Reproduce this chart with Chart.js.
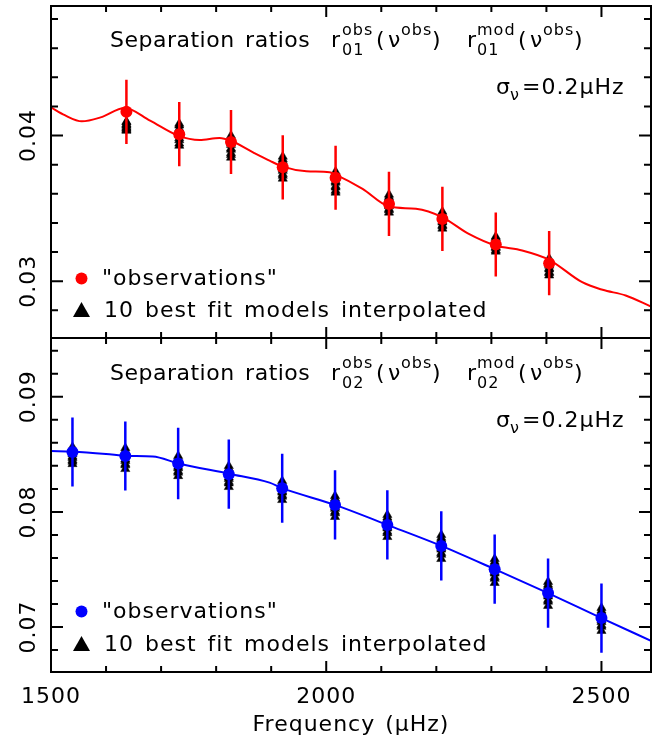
<!DOCTYPE html>
<html>
<head>
<meta charset="utf-8">
<script src="https://cdn.jsdelivr.net/npm/chart.js"></script>
<style>
  html, body { margin: 0; padding: 0; background: #fff; }
  #wrap { position: relative; width: 666px; height: 737px; }
  canvas { position: absolute; left: 0; top: 0; }
</style>
</head>
<body>
<div id="wrap">
  <canvas id="r01" width="666" height="737"></canvas>
  <canvas id="r02" width="666" height="737"></canvas>
</div>
<script>
// x axis (frequency, muHz)
const xMin = 1500;
const xMax = 2590;
const xTicks = [1500, 1600, 1700, 1800, 1900, 2000, 2100, 2200, 2300, 2400, 2500];
const xMajor = [1500, 2000, 2500];
const xLabels = ["1500", "2000", "2500"];

// r01 panel
const freq01 = [1637, 1733, 1827, 1921, 2017, 2114, 2211, 2308, 2405];
const r01Obs = [0.04163, 0.04010, 0.03956, 0.03782, 0.03710, 0.03531, 0.03428, 0.03252, 0.03124];
const r01Err = [0.0022, 0.0022, 0.0022, 0.0022, 0.0022, 0.0022, 0.0022, 0.0022, 0.0022];
const models01 = [
  [0.04096, 0.04091, 0.04079, 0.04074, 0.04068, 0.04057, 0.04052, 0.04047, 0.04038, 0.04034],
  [0.04082, 0.04070, 0.04049, 0.04038, 0.04014, 0.04003, 0.03982, 0.03969, 0.03946, 0.03931],
  [0.04000, 0.03981, 0.03972, 0.03948, 0.03937, 0.03913, 0.03904, 0.03880, 0.03868, 0.03849],
  [0.03856, 0.03838, 0.03827, 0.03805, 0.03793, 0.03771, 0.03759, 0.03737, 0.03725, 0.03705],
  [0.03753, 0.03741, 0.03719, 0.03709, 0.03687, 0.03678, 0.03654, 0.03644, 0.03622, 0.03609],
  [0.03595, 0.03580, 0.03571, 0.03552, 0.03544, 0.03524, 0.03516, 0.03497, 0.03488, 0.03472],
  [0.03478, 0.03463, 0.03455, 0.03437, 0.03430, 0.03411, 0.03404, 0.03385, 0.03378, 0.03362],
  [0.03307, 0.03298, 0.03282, 0.03275, 0.03259, 0.03252, 0.03236, 0.03229, 0.03213, 0.03204],
  [0.03156, 0.03141, 0.03134, 0.03115, 0.03108, 0.03090, 0.03082, 0.03063, 0.03056, 0.03040]
];
const curveFreq01 = [1500, 1525, 1556, 1590, 1634, 1680, 1731, 1770, 1806, 1826, 1867, 1897, 1921, 1964, 2006, 2017, 2066, 2114, 2163, 2211, 2259, 2308, 2356, 2405, 2465, 2502, 2544, 2590];
const curve01 = [0.04194, 0.04140, 0.04098, 0.04125, 0.04190, 0.04103, 0.04000, 0.03970, 0.03984, 0.03966, 0.03885, 0.03828, 0.03787, 0.03755, 0.03748, 0.03732, 0.03634, 0.03513, 0.03497, 0.03439, 0.03325, 0.03245, 0.03211, 0.03147, 0.02993, 0.02941, 0.02902, 0.02826];
const yTicks01 = [0.028, 0.03, 0.032, 0.034, 0.036, 0.038, 0.04, 0.042, 0.044, 0.046, 0.048];
const yMajor01 = [0.03, 0.04];
const yLabels01 = ["0.03", "0.04"];

// r02 panel
const freq02 = [1539, 1635, 1731, 1823, 1920, 2016, 2111, 2209, 2306, 2403, 2500];
const r02Obs = [0.08520, 0.08486, 0.08420, 0.08328, 0.08206, 0.08061, 0.07887, 0.07705, 0.07503, 0.07295, 0.07078];
const r02Err = [0.0030, 0.0030, 0.0031, 0.0030, 0.0030, 0.0030, 0.0030, 0.0030, 0.0030, 0.0030, 0.0030];
const models02 = [
  [0.08564, 0.08546, 0.08535, 0.08514, 0.08503, 0.08481, 0.08470, 0.08449, 0.08437, 0.08416],
  [0.08555, 0.08533, 0.08520, 0.08495, 0.08483, 0.08456, 0.08444, 0.08418, 0.08406, 0.08373],
  [0.08486, 0.08466, 0.08453, 0.08429, 0.08417, 0.08393, 0.08380, 0.08355, 0.08342, 0.08312],
  [0.08399, 0.08378, 0.08365, 0.08340, 0.08327, 0.08301, 0.08288, 0.08262, 0.08249, 0.08217],
  [0.08269, 0.08250, 0.08238, 0.08216, 0.08204, 0.08180, 0.08169, 0.08146, 0.08134, 0.08104],
  [0.08139, 0.08118, 0.08105, 0.08080, 0.08067, 0.08041, 0.08028, 0.08002, 0.07989, 0.07957],
  [0.07974, 0.07952, 0.07938, 0.07912, 0.07899, 0.07871, 0.07858, 0.07830, 0.07817, 0.07783],
  [0.07800, 0.07776, 0.07761, 0.07733, 0.07718, 0.07688, 0.07674, 0.07644, 0.07629, 0.07592],
  [0.07592, 0.07568, 0.07553, 0.07525, 0.07510, 0.07480, 0.07466, 0.07436, 0.07421, 0.07384],
  [0.07393, 0.07369, 0.07354, 0.07326, 0.07311, 0.07281, 0.07267, 0.07237, 0.07222, 0.07185],
  [0.07167, 0.07144, 0.07130, 0.07103, 0.07089, 0.07060, 0.07046, 0.07018, 0.07004, 0.06968]
];
const curveFreq02 = [1500, 1540, 1600, 1640, 1685, 1731, 1825, 1897, 1920, 2016, 2111, 2209, 2306, 2403, 2500, 2590];
const curve02 = [0.08529, 0.08523, 0.08503, 0.08486, 0.08482, 0.08421, 0.08330, 0.08254, 0.08206, 0.08061, 0.07887, 0.07705, 0.07503, 0.07295, 0.07078, 0.06881];
const yTicks02 = [0.068, 0.07, 0.072, 0.074, 0.076, 0.078, 0.08, 0.082, 0.084, 0.086, 0.088, 0.09, 0.092, 0.094];
const yMajor02 = [0.07, 0.08, 0.09];
const yLabels02 = ["0.07", "0.08", "0.09"];

const FONT = '"DejaVu Sans", sans-serif';

function text(ctx, t, x, y, size, spacing, words) {
  ctx.font = size + 'px ' + FONT;
  ctx.letterSpacing = (spacing || 0) + 'px';
  ctx.wordSpacing = (words || 0) + 'px';
  ctx.fillText(t, x, y);
}

const framePlugin = {
  id: 'frame',
  afterDraw(chart, args, o) {
    const ctx = chart.ctx;
    const a = chart.chartArea;
    const xs = chart.scales.x, ys = chart.scales.y;
    ctx.save();
    ctx.strokeStyle = '#000';
    ctx.fillStyle = '#000';
    ctx.lineWidth = 2;
    ctx.strokeRect(a.left, a.top, a.right - a.left, a.bottom - a.top);

    ctx.beginPath();
    xTicks.forEach(v => {
      const px = xs.getPixelForValue(v);
      const len = xMajor.includes(v) ? 11 : 6;
      ctx.moveTo(px, a.bottom); ctx.lineTo(px, a.bottom - len);
      ctx.moveTo(px, a.top); ctx.lineTo(px, a.top + len);
    });
    o.yTicks.forEach(v => {
      const py = ys.getPixelForValue(v);
      const len = o.yMajor.includes(v) ? 12 : 7;
      ctx.moveTo(a.left, py); ctx.lineTo(a.left + len, py);
      ctx.moveTo(a.right, py); ctx.lineTo(a.right - len, py);
    });
    ctx.stroke();

    // rotated y labels
    ctx.textAlign = 'center';
    ctx.textBaseline = 'alphabetic';
    o.yMajor.forEach((v, i) => {
      const py = ys.getPixelForValue(v);
      ctx.save();
      ctx.translate(35, py);
      ctx.rotate(-Math.PI / 2);
      text(ctx, o.yLabels[i], 0, 0, 22, 1);
      ctx.restore();
    });

    if (o.xLabels) {
      xMajor.forEach((v, i) => {
        text(ctx, xLabels[i], xs.getPixelForValue(v), 703, 22, 1);
      });
      text(ctx, 'Frequency (\u03bcHz)', 351, 731, 22, 1, 2);
    }

    // title
    ctx.textAlign = 'left';
    const B = o.titleY;
    text(ctx, 'Separation ratios', 110, B, 22, 0.5, 3);
    text(ctx, 'r', 331, B, 22);
    text(ctx, 'obs', 342, B - 12, 16, 1);
    text(ctx, o.sub, 342, B + 8, 16, 1);
    text(ctx, '(', 376, B, 22);
    text(ctx, '\u03bd', 388, B, 22);
    text(ctx, 'obs', 401, B - 12, 16, 1);
    text(ctx, ')', 432, B, 22);
    text(ctx, 'r', 467, B, 22);
    text(ctx, 'mod', 477, B - 12, 16, 1);
    text(ctx, o.sub, 477, B + 8, 16, 1);
    text(ctx, '(', 518, B, 22);
    text(ctx, '\u03bd', 530, B, 22);
    text(ctx, 'obs', 543, B - 12, 16, 1);
    text(ctx, ')', 574, B, 22);

    // sigma
    const S = o.sigmaY;
    text(ctx, '\u03c3', 496, S, 22);
    text(ctx, '\u03bd', 510, S + 6, 16);
    text(ctx, '=0.2\u03bcHz', 522, S, 22, 1);

    // legend
    ctx.fillStyle = o.color;
    ctx.beginPath();
    ctx.arc(81.5, o.legY1 - 6.5, 6, 0, Math.PI * 2);
    ctx.fill();
    ctx.fillStyle = '#000';
    text(ctx, '"observations"', 102, o.legY1, 22, 1);
    ctx.beginPath();
    ctx.moveTo(81.5, o.legY2 - 15);
    ctx.lineTo(90, o.legY2);
    ctx.lineTo(73, o.legY2);
    ctx.closePath();
    ctx.fill();
    text(ctx, '10 best fit models interpolated', 104, o.legY2, 22, 1, 3);
    ctx.restore();
  }
};

function makeChart(id, p) {
  const curve = p.curveX.map((f, i) => ({ x: f, y: p.curveY[i] }));
  const obs = p.freq.map((f, i) => ({ x: f, y: p.obs[i] }));
  const bars = [];
  p.freq.forEach((f, i) => {
    bars.push({ x: f, y: p.obs[i] - p.err[i] });
    bars.push({ x: f, y: p.obs[i] + p.err[i] });
    bars.push({ x: f, y: null });
  });
  const tri = [];
  p.models.forEach((vals, i) => vals.forEach(v => tri.push({ x: p.freq[i], y: v })));

  return new Chart(document.getElementById(id), {
    type: 'line',
    data: {
      datasets: [
        { data: tri, showLine: false, pointStyle: 'triangle', pointRadius: 5.3,
          backgroundColor: '#000', borderColor: '#000', borderWidth: 0.5, order: 4 },
        { data: curve, borderColor: p.color, borderWidth: 2, pointRadius: 0,
          cubicInterpolationMode: 'monotone', order: 3 },
        { data: bars, borderColor: p.color, borderWidth: 2.5, pointRadius: 0,
          spanGaps: false, order: 2 },
        { data: obs, showLine: false, pointRadius: 6, backgroundColor: p.color,
          borderWidth: 0, order: 1 }
      ]
    },
    options: {
      responsive: false,
      animation: false,
      devicePixelRatio: 1,
      events: [],
      layout: { padding: { left: 51, right: 15, top: p.padTop, bottom: p.padBottom } },
      scales: {
        x: { type: 'linear', min: xMin, max: xMax, display: false },
        y: { type: 'linear', min: p.yMin, max: p.yMax, display: false }
      },
      plugins: {
        legend: { display: false },
        tooltip: { enabled: false },
        frame: p
      }
    },
    plugins: [framePlugin]
  });
}

makeChart('r01', {
  freq: freq01, obs: r01Obs, err: r01Err, models: models01,
  curveX: curveFreq01, curveY: curve01, color: '#ff0000',
  yMin: 0.0261, yMax: 0.0489, yTicks: yTicks01, yMajor: yMajor01, yLabels: yLabels01,
  sub: '01', padTop: 5, padBottom: 399, titleY: 47, sigmaY: 94, legY1: 285, legY2: 317, xLabels: false
});

makeChart('r02', {
  freq: freq02, obs: r02Obs, err: r02Err, models: models02,
  curveX: curveFreq02, curveY: curve02, color: '#0000ff',
  yMin: 0.0661, yMax: 0.0951, yTicks: yTicks02, yMajor: yMajor02, yLabels: yLabels02,
  sub: '02', padTop: 338, padBottom: 65, titleY: 380, sigmaY: 427, legY1: 618, legY2: 651, xLabels: true
});
</script>
</body>
</html>
